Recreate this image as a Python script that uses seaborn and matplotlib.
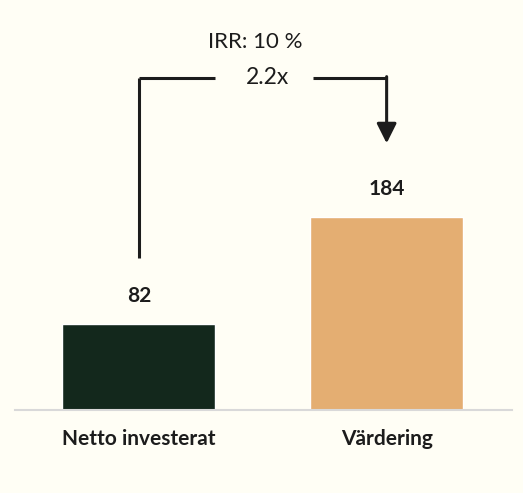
import matplotlib
matplotlib.use("Agg")
import matplotlib.pyplot as plt
import seaborn as sns
import pandas as pd

categories = ["Netto investerat", "Värdering"]
values = [82, 184]
colors = ["#13281c", "#e4ae72"]
multiple_label = "2.2x"
irr_label = "IRR: 10 %"

bg = "#fffef5"
ink = "#1c1c1c"

sns.set_theme(style="white")
plt.rcParams["font.family"] = ["Lato", "DejaVu Sans"]

df = pd.DataFrame({"cat": categories, "val": values})

fig = plt.figure(figsize=(5.23, 4.93), dpi=100, facecolor=bg)
ax = fig.add_axes([15 / 523, 83 / 493, 497 / 523, 400 / 493])
ax.set_facecolor(bg)

sns.barplot(data=df, x="cat", y="val", hue="cat", palette=colors,
            width=0.617, saturation=1, legend=False, ax=ax)

ax.set_xlim(-0.5, 1.506)
ax.set_ylim(0, 381)
for c in ax.containers:
    ax.bar_label(c, fmt="%d", padding=13, fontsize=15, fontweight="bold", color=ink)

for s in ["top", "right", "left"]:
    ax.spines[s].set_visible(False)
ax.spines["bottom"].set_color("#d9d9d9")
ax.spines["bottom"].set_linewidth(1.5)
ax.set_yticks([])
ax.set_xlabel("")
ax.set_ylabel("")
ax.tick_params(axis="x", length=0, pad=14, labelsize=15, colors=ink)
for t in ax.get_xticklabels():
    t.set_fontweight("bold")

# bracket annotation
ytop = 316.5
lw = 2.2
ax.plot([0, 0], [145, ytop], color=ink, lw=lw, solid_capstyle="butt")
ax.plot([0, 0.308], [ytop, ytop], color=ink, lw=lw, solid_capstyle="butt")
ax.plot([0.704, 1], [ytop, ytop], color=ink, lw=lw, solid_capstyle="butt")
ax.annotate("", xy=(1, 254), xytext=(1, ytop + 1),
            arrowprops=dict(arrowstyle="-|>,head_length=1.0,head_width=0.5",
                            color=ink, lw=lw, shrinkA=0, shrinkB=0))
ax.text(0.52, ytop, multiple_label, ha="center", va="center", fontsize=16.5, color=ink)
ax.text(0.47, ytop + 34, irr_label, ha="center", va="center", fontsize=16, color=ink)

fig.savefig("out.png", dpi=100, facecolor=bg)
